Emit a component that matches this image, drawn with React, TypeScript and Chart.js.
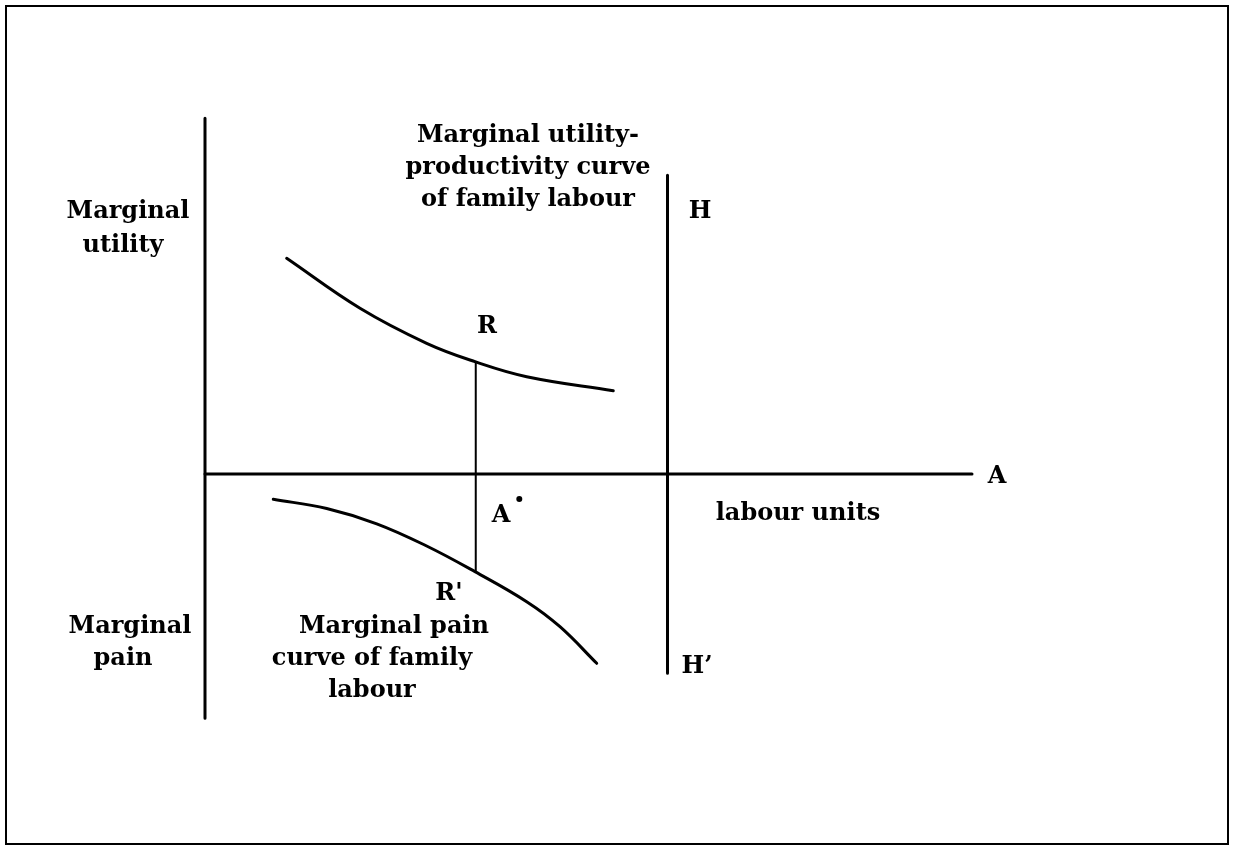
import React, { useEffect, useRef } from "react";
import { Chart, registerables } from "chart.js";

Chart.register(...registerables);

// Curves (arbitrary units: x = labour units, y = marginal utility (+) / marginal pain (-))
const utilityX = [1.065, 2.021, 2.89, 3.52, 4.194, 5.323];
const utilityY = [3.595, 2.762, 2.178, 1.872, 1.622, 1.388];
const painX = [0.89, 1.587, 2.239, 2.89, 3.52, 4.194, 4.628, 5.107];
const painY = [-0.422, -0.575, -0.83, -1.2, -1.628, -2.128, -2.545, -3.155];

// Axes and guide lines
const axisYTop = 5.93;
const axisYBottom = -4.07;
const axisXEnd = 10;
const equilibriumX = 3.53; // A*
const equilibriumTop = 1.872; // R
const equilibriumBottom = -1.628; // R'
const limitX = 6.03; // H-H'
const limitTop = 4.98;
const limitBottom = -3.32;

// Labels
const labelTexts = [
  "Marginal", "utility",
  "Marginal utility-", "productivity curve", "of family labour",
  "H", "R", "A", "R'", "A", "labour units",
  "Marginal", "pain",
  "Marginal pain", "curve of family", "labour",
  "H\u2019",
];
const labelX = [
  -1.004, -1.069,
  4.211, 4.211, 4.211,
  6.454, 3.677, 3.859, 3.181, 10.326, 7.731,
  -0.978, -1.069,
  2.464, 2.177, 2.177,
  6.415,
];
const labelY = [
  4.267, 3.7,
  5.533, 5.0, 4.467,
  4.267, 2.35, -0.8, -2.1, -0.15, -0.767,
  -2.65, -3.183,
  -2.65, -3.183, -3.717,
  -3.317,
];
const superscriptIndex = 7; // "A" with superscript mark (A*)

const FONT = "bold 24px 'DejaVu Serif'";

export default function App() {
  const canvasRef = useRef<HTMLCanvasElement | null>(null);

  useEffect(() => {
    const canvas = canvasRef.current;
    if (!canvas) return;

    const labelsPlugin = {
      id: "diagramLabels",
      afterDraw(chart: any) {
        const ctx = chart.ctx as CanvasRenderingContext2D;
        const xs = chart.scales.x;
        const ys = chart.scales.y;
        ctx.save();
        ctx.strokeStyle = "#000";
        ctx.lineWidth = 2;
        ctx.strokeRect(6, 6, 1222, 838);
        ctx.fillStyle = "#000";
        ctx.font = FONT;
        ctx.textAlign = "center";
        ctx.textBaseline = "alphabetic";
        labelTexts.forEach((t, i) => {
          const px = xs.getPixelForValue(labelX[i]);
          const py = ys.getPixelForValue(labelY[i]);
          ctx.fillText(t, px, py);
          if (i === superscriptIndex) {
            const w = ctx.measureText(t).width;
            ctx.beginPath();
            ctx.arc(px + w / 2 + 9, py - 23, 3, 0, Math.PI * 2);
            ctx.fill();
          }
        });
        ctx.restore();
      },
    };

    const line = (data: { x: number; y: number }[], width: number, smooth = false) => ({
      data,
      showLine: true,
      borderColor: "#000",
      backgroundColor: "#000",
      borderWidth: width,
      pointRadius: 0,
      tension: smooth ? 0.4 : 0,
      borderCapStyle: "round" as const,
      fill: false,
    });

    const chart = new Chart(canvas, {
      type: "scatter",
      data: {
        datasets: [
          line([{ x: 0, y: axisYTop }, { x: 0, y: axisYBottom }], 3),
          line([{ x: 0, y: 0 }, { x: axisXEnd, y: 0 }], 3),
          line(utilityX.map((x, i) => ({ x, y: utilityY[i] })), 3, true),
          line(painX.map((x, i) => ({ x, y: painY[i] })), 3, true),
          line([{ x: equilibriumX, y: equilibriumTop }, { x: equilibriumX, y: equilibriumBottom }], 2),
          line([{ x: limitX, y: limitTop }, { x: limitX, y: limitBottom }], 3),
        ],
      },
      options: {
        animation: false,
        responsive: true,
        maintainAspectRatio: false,
        layout: { padding: 0 },
        plugins: {
          legend: { display: false },
          tooltip: { enabled: false },
          title: { display: false },
        },
        events: [],
        scales: {
          x: { type: "linear", display: false, min: -205 / 76.7, max: (1233 - 205) / 76.7 },
          y: { type: "linear", display: false, min: -(846 - 474) / 60, max: 474 / 60 },
        },
      },
      plugins: [labelsPlugin],
    });

    return () => chart.destroy();
  }, []);

  return (
    <div style={{ position: "absolute", left: 0, top: 0, width: 1233, height: 846, background: "#fff" }}>
      <canvas ref={canvasRef} />
    </div>
  );
}
